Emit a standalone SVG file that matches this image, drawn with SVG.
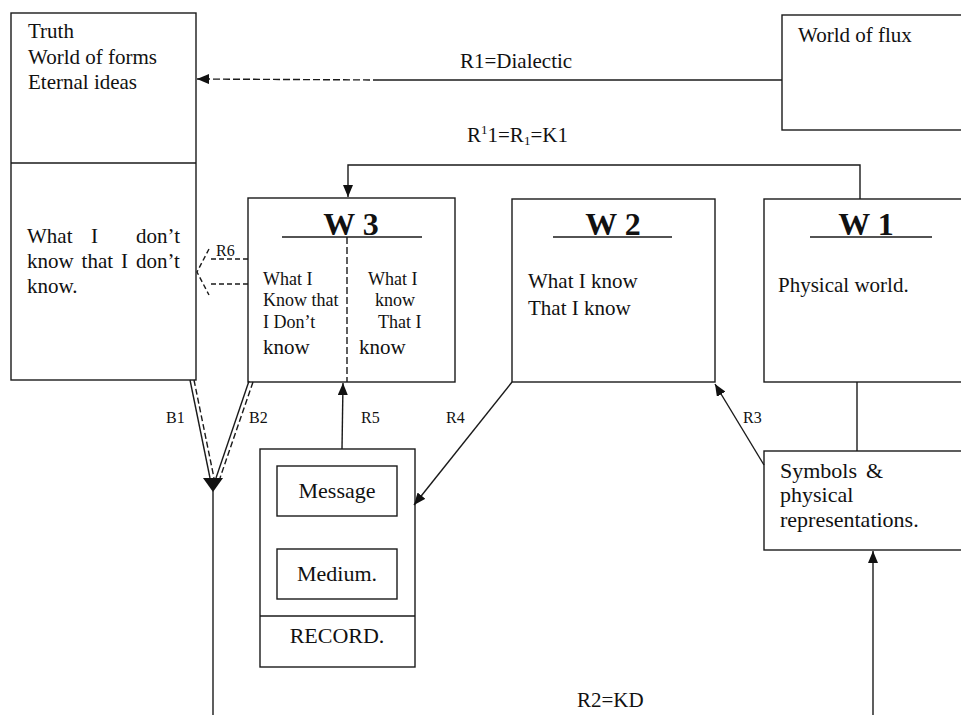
<svg xmlns="http://www.w3.org/2000/svg" width="961" height="715" viewBox="0 0 961 715">
<style>
  .box { fill: #fff; stroke: #1a1a1a; stroke-width: 1.4; }
  .ln { fill: none; stroke: #1a1a1a; stroke-width: 1.4; }
  .dash { fill: none; stroke: #1a1a1a; stroke-width: 1.4; stroke-dasharray: 7 3; }
  .t { font-family: "Liberation Serif", "Times New Roman", serif; font-size: 21px; fill: #111; }
  .b { font-family: "Liberation Serif", "Times New Roman", serif; font-size: 22px; fill: #111; }
  .s { font-family: "Liberation Serif", "Times New Roman", serif; font-size: 18px; fill: #111; }
  .lab { font-family: "Liberation Serif", "Times New Roman", serif; font-size: 16px; fill: #111; }
  .h { font-family: "Liberation Serif", "Times New Roman", serif; font-size: 32px; font-weight: bold; fill: #111; }
</style>
<defs>
  <marker id="arr" viewBox="0 0 12 10" refX="12" refY="5" markerWidth="12" markerHeight="10" markerUnits="userSpaceOnUse" orient="auto">
    <path d="M0,0 L12,5 L0,10 Z" fill="#111"/>
  </marker>
</defs>
<rect width="961" height="715" fill="#fff"/>

<g id="forms">
  <rect class="box" x="11" y="13" width="185" height="367"/>
  <line class="ln" x1="11" y1="163" x2="196" y2="163"/>
  <text class="t" x="28" y="38">Truth</text>
  <text class="t" x="28" y="64">World of forms</text>
  <text class="t" x="28" y="89">Eternal ideas</text>
  <text class="t" y="243"><tspan x="27">What</tspan><tspan x="91">I</tspan><tspan x="180" text-anchor="end">don’t</tspan></text>
  <text class="t" x="27" y="268" word-spacing="2.7">know that I don’t</text>
  <text class="t" x="27" y="293">know.</text>
</g>

<g id="flux">
  <rect class="box" x="782" y="15" width="200" height="115"/>
  <text class="t" x="798" y="42">World of flux</text>
</g>

<g id="w3">
  <rect class="box" x="248" y="198" width="207" height="184"/>
  <text class="h" x="351" y="235" text-anchor="middle">W 3</text>
  <line class="ln" x1="282" y1="237" x2="422" y2="237"/>
  <line class="dash" x1="347" y1="237" x2="347" y2="382"/>
  <text class="s" x="263" y="285">What I</text>
  <text class="s" x="263" y="306">Know that</text>
  <text class="s" x="263" y="328">I Don’t</text>
  <text class="t" x="263" y="354">know</text>
  <text class="s" x="368" y="285">What I</text>
  <text class="s" x="375" y="306">know</text>
  <text class="s" x="378" y="328">That I</text>
  <text class="t" x="359" y="354">know</text>
</g>

<g id="w2">
  <rect class="box" x="512" y="199" width="203" height="183"/>
  <text class="h" x="613" y="235" text-anchor="middle">W 2</text>
  <line class="ln" x1="553" y1="237" x2="672" y2="237"/>
  <text class="t" x="528" y="288">What I know</text>
  <text class="t" x="528" y="315">That I know</text>
</g>

<g id="w1">
  <rect class="box" x="764" y="199" width="220" height="183"/>
  <text class="h" x="866" y="235" text-anchor="middle">W 1</text>
  <line class="ln" x1="810" y1="237" x2="932" y2="237"/>
  <text class="t" x="778" y="292">Physical world.</text>
</g>

<g id="symbols">
  <rect class="box" x="764" y="451" width="220" height="99"/>
  <text class="b" y="478"><tspan x="780">Symbols</tspan><tspan x="866">&amp;</tspan></text>
  <text class="b" x="780" y="502">physical</text>
  <text class="b" x="780" y="527">representations.</text>
</g>

<g id="record">
  <rect class="box" x="260" y="449" width="155" height="218"/>
  <line class="ln" x1="260" y1="616" x2="415" y2="616"/>
  <text class="b" x="337" y="643" text-anchor="middle">RECORD.</text>
  <g id="message">
    <rect class="box" x="277" y="466" width="120" height="50"/>
    <text class="b" x="337" y="498" text-anchor="middle">Message</text>
  </g>
  <g id="medium">
    <rect class="box" x="277" y="549" width="120" height="50"/>
    <text class="b" x="337" y="581" text-anchor="middle">Medium.</text>
  </g>
</g>

<g id="connectors">
  <!-- R1 -->
  <line class="ln" x1="782" y1="80" x2="380" y2="80"/>
  <line class="dash" x1="380" y1="80" x2="197" y2="79" marker-end="url(#arr)"/>
  <text class="t" x="460" y="68">R1=Dialectic</text>
  <!-- R'1 bracket -->
  <path class="ln" d="M860,199 L860,165 L348,165 L348,197" marker-end="url(#arr)"/>
  <text class="t" x="467" y="142">R<tspan dy="-8" style="font-size:13px">1</tspan><tspan dy="8">1=R</tspan><tspan dy="3" style="font-size:13px">1</tspan><tspan dy="-3">=K1</tspan></text>
  <!-- R6 -->
  <path class="dash" d="M248,259 L209,259 M248,284 L209,284 M209,249 L197,272 L209,295" style="stroke-dasharray:5 3"/>
  <text class="lab" x="216" y="256">R6</text>
  <!-- B1, B2 -->
  <line class="ln" x1="190" y1="380" x2="210" y2="478"/>
  <line class="dash" x1="194" y1="380" x2="214" y2="478" style="stroke-dasharray:6 3"/>
  <line class="ln" x1="249" y1="381" x2="216" y2="478"/>
  <line class="dash" x1="253" y1="382" x2="220" y2="478" style="stroke-dasharray:6 3"/>
  <path d="M203,478 L223,478 L213,492 Z" fill="#111"/>
  <line class="ln" x1="213" y1="490" x2="213" y2="715"/>
  <text class="lab" x="166" y="423">B1</text>
  <text class="lab" x="249" y="423">B2</text>
  <!-- R5 -->
  <line class="ln" x1="342" y1="449" x2="343" y2="383" marker-end="url(#arr)"/>
  <text class="lab" x="361" y="423">R5</text>
  <!-- R4 -->
  <line class="ln" x1="512" y1="382" x2="414" y2="505" marker-end="url(#arr)"/>
  <text class="lab" x="446" y="423">R4</text>
  <!-- R3 -->
  <line class="ln" x1="764" y1="465" x2="715" y2="384" marker-end="url(#arr)"/>
  <text class="lab" x="743" y="423">R3</text>
  <!-- W1 to symbols -->
  <line class="ln" x1="857" y1="382" x2="857" y2="451"/>
  <!-- R2 -->
  <line class="ln" x1="873" y1="715" x2="873" y2="551" marker-end="url(#arr)"/>
  <text class="t" x="577" y="707">R2=KD</text>
</g>
</svg>
